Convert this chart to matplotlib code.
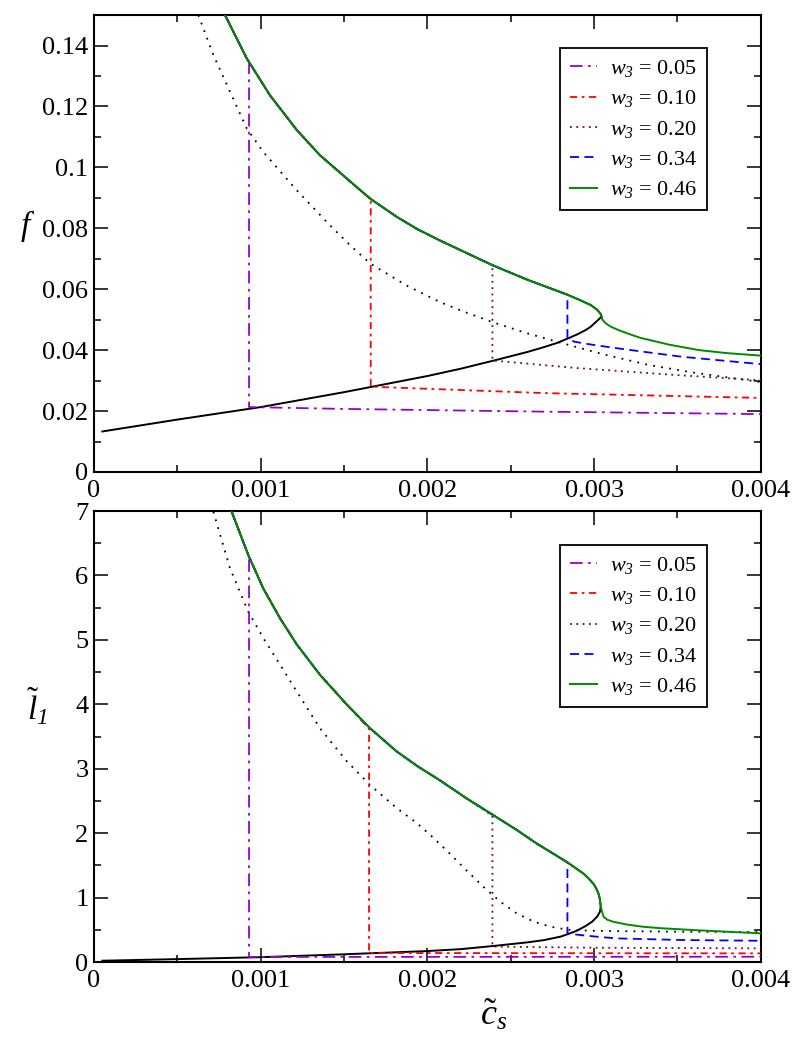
import matplotlib
matplotlib.use("Agg")
import matplotlib.pyplot as plt
from matplotlib.ticker import MultipleLocator, FuncFormatter

plt.rcParams['font.family'] = ['Liberation Serif', 'DejaVu Serif']
plt.rcParams['mathtext.fontset'] = 'custom'
plt.rcParams['mathtext.rm'] = 'Liberation Serif'
plt.rcParams['mathtext.it'] = 'Liberation Serif:italic'
# italic digits for the subscripts
plt.rcParams['mathtext.bf'] = 'Liberation Serif:italic'

### data
w3_labels = ["0.05", "0.10", "0.20", "0.34", "0.46"]
colors = ["#9400D3", "#FF0000", "#670748", "#0000FF", "#008B00"]
dashes = [(7, 3, 1.5, 3), (4, 2.5, 1.5, 2.5), (1, 2.5), (5, 3), None]

# top panel : f
c_up_f = [0.000786, 0.000916, 0.001055, 0.001216, 0.001355, 0.001515, 0.001655,
          0.001815, 0.00194, 0.002075, 0.00239, 0.0026, 0.00284, 0.00292, 0.00298,
          0.00302, 0.00304, 0.003045]
f_up = [0.150, 0.1358, 0.1237, 0.1123, 0.1040, 0.0964, 0.0898,
        0.0838, 0.0797, 0.0760, 0.0679, 0.0631, 0.0582, 0.0563, 0.0548,
        0.0532, 0.0518, 0.0510]
c_lo_f = [0.00005, 0.0005, 0.001, 0.0015, 0.002, 0.0022, 0.0024, 0.0026, 0.0027,
          0.00278, 0.00285, 0.0029, 0.00295, 0.00298, 0.00301, 0.00303, 0.003045]
f_lo = [0.0133, 0.0172, 0.0213, 0.0262, 0.0315, 0.0339, 0.0366, 0.0394, 0.0410,
        0.0424, 0.0440, 0.0452, 0.0466, 0.0477, 0.0492, 0.0502, 0.0510]
c_sp_f = [0.000626, 0.000716, 0.000816, 0.000916, 0.001015, 0.001216, 0.001415,
          0.001535, 0.001655, 0.001875, 0.002075, 0.0022, 0.00239, 0.0026,
          0.002835, 0.00305, 0.00333, 0.0036, 0.004]
f_sp = [0.150, 0.1369, 0.1248, 0.1128, 0.1051, 0.0925, 0.0810,
        0.0745, 0.0685, 0.0612, 0.0558, 0.0530, 0.0492, 0.0455,
        0.0419, 0.0387, 0.0351, 0.0326, 0.0295]
c_green_f = [0.003045, 0.00305, 0.00307, 0.0031, 0.00315, 0.00322, 0.00328,
             0.00345, 0.00363, 0.0038, 0.004]
f_green = [0.0510, 0.0500, 0.0488, 0.0477, 0.0465, 0.0451, 0.0440,
           0.0418, 0.0400, 0.0390, 0.0382]

jump_c_f = [0.00093, 0.00166, 0.00239, 0.00284]
jump_top_f = [0.1350, 0.0896, 0.0679, 0.0582]
tail_c_f = [[0.00093, 0.0015, 0.0027, 0.004],
            [0.00166, 0.0027, 0.004],
            [0.00239, 0.0029, 0.0035, 0.004],
            [0.00284, 0.00288, 0.00295, 0.00305, 0.00318, 0.00353, 0.004]]
tail_f = [[0.0213, 0.0207, 0.0198, 0.0190],
          [0.0280, 0.0259, 0.0243],
          [0.0366, 0.0341, 0.0318, 0.0301],
          [0.0440, 0.0428, 0.0421, 0.0413, 0.0403, 0.0378, 0.0354]]

# bottom panel : l1
c_up_l = [0.000826, 0.000925, 0.001015, 0.001115, 0.001216, 0.001355, 0.001515,
          0.001655, 0.001815, 0.00194, 0.002075, 0.002235, 0.002395, 0.00253,
          0.002655, 0.002835, 0.002935, 0.00297, 0.0030, 0.003015, 0.003026,
          0.003035, 0.00304]
l_up = [6.99, 6.32, 5.80, 5.34, 4.93, 4.46, 4.00,
        3.63, 3.27, 3.04, 2.82, 2.54, 2.28, 2.06,
        1.84, 1.555, 1.375, 1.29, 1.20, 1.13, 1.065,
        0.97, 0.86]
c_lo_l = [0.00005, 0.0005, 0.001, 0.0015, 0.002, 0.0022, 0.0024, 0.0026, 0.0027,
          0.0028, 0.00285, 0.0029, 0.00295, 0.00299, 0.00302, 0.003035, 0.00304]
l_lo = [0.02, 0.045, 0.075, 0.12, 0.17, 0.20, 0.25, 0.305, 0.34,
        0.395, 0.44, 0.49, 0.56, 0.63, 0.71, 0.78, 0.86]
c_sp_l = [0.000716, 0.000816, 0.000925, 0.001015, 0.001115, 0.001216, 0.001355,
          0.001515, 0.001655, 0.001815, 0.001935, 0.002035, 0.002135, 0.002235,
          0.002335, 0.002435, 0.002535, 0.002635, 0.002735, 0.002845, 0.0030,
          0.003135, 0.003535, 0.004]
l_sp = [6.99, 6.11, 5.44, 5.03, 4.62, 4.20, 3.63,
        3.12, 2.75, 2.39, 2.16, 1.93, 1.68, 1.42,
        1.17, 0.94, 0.755, 0.63, 0.55, 0.50, 0.485,
        0.48, 0.47, 0.465]
c_green_l = [0.00304, 0.00305, 0.003058, 0.00308, 0.003115, 0.0032, 0.003295,
             0.0034, 0.003595, 0.0038, 0.004]
l_green = [0.86, 0.76, 0.70, 0.655, 0.625, 0.58, 0.547,
           0.525, 0.496, 0.47, 0.445]

jump_c_l = [0.00093, 0.00165, 0.00239, 0.00284]
jump_top_l = [6.33, 3.62, 2.27, 1.55]
tail_c_l = [[0.00093, 0.002, 0.004],
            [0.00165, 0.0028, 0.004],
            [0.00239, 0.0030, 0.004],
            [0.00284, 0.00288, 0.00295, 0.00305, 0.003135, 0.003535, 0.004]]
tail_l = [[0.078, 0.080, 0.082],
          [0.140, 0.137, 0.134],
          [0.240, 0.222, 0.212],
          [0.445, 0.430, 0.410, 0.385, 0.367, 0.341, 0.330]]


def fmt(v, pos):
    return "%g" % round(v, 6)


def draw_panel(ax, c_up, y_up, c_lo, y_lo, c_sp, y_sp, c_gr, y_gr,
               jc, jtop, tc, ty):
    # black S-shaped curve : lower branch then back along the upper branch
    ax.plot(list(c_lo) + list(c_up[::-1]), list(y_lo) + list(y_up[::-1]),
            color='black', lw=1.4, zorder=2)
    ax.plot(c_sp, y_sp, color='black', lw=1.3, dashes=(1, 3.5), zorder=2)
    handles = []
    for i in range(4):
        xs = [c for c in c_up if c < jc[i]] + [jc[i]] + list(tc[i])
        ys = [y for c, y in zip(c_up, y_up) if c < jc[i]] + [jtop[i]] + list(ty[i])
        h, = ax.plot(xs, ys, color=colors[i], lw=1.3, dashes=dashes[i], zorder=3)
        handles.append(h)
    h, = ax.plot(list(c_up) + list(c_gr[1:]), list(y_up) + list(y_gr[1:]),
                 color=colors[4], lw=1.4, zorder=4)
    handles.append(h)
    ax.set_xlim(0, 0.004)
    ax.xaxis.set_major_locator(MultipleLocator(0.001))
    ax.xaxis.set_minor_locator(MultipleLocator(0.0005))
    ax.xaxis.set_major_formatter(FuncFormatter(fmt))
    ax.yaxis.set_major_formatter(FuncFormatter(fmt))
    ax.tick_params(which='both', direction='in', top=True, right=True,
                   labelsize=19, width=1.1, labelfontfamily='Liberation Serif')
    ax.tick_params(which='major', length=10)
    ax.tick_params(which='minor', length=5)
    ax.tick_params(axis='x', pad=6)
    ax.tick_params(axis='y', pad=4)
    for sp in ax.spines.values():
        sp.set_linewidth(1.5)
    return handles


fig = plt.figure(figsize=(8, 10.38), dpi=100)
ax1 = fig.add_axes([0.1175, 0.5453, 0.8335, 0.4402])
ax2 = fig.add_axes([0.1175, 0.0732, 0.8335, 0.4345])

h1 = draw_panel(ax1, c_up_f, f_up, c_lo_f, f_lo, c_sp_f, f_sp, c_green_f, f_green,
                jump_c_f, jump_top_f, tail_c_f, tail_f)
ax1.set_ylim(0, 0.15)
ax1.yaxis.set_major_locator(MultipleLocator(0.02))
ax1.yaxis.set_minor_locator(MultipleLocator(0.01))
ax1.set_ylabel('$f$', rotation=0, fontsize=24)
ax1.yaxis.set_label_coords(-0.1, 0.5)

h2 = draw_panel(ax2, c_up_l, l_up, c_lo_l, l_lo, c_sp_l, l_sp, c_green_l, l_green,
                jump_c_l, jump_top_l, tail_c_l, tail_l)
ax2.set_ylim(0, 7)
ax2.yaxis.set_major_locator(MultipleLocator(1))
ax2.yaxis.set_minor_locator(MultipleLocator(0.5))
ax2.set_ylabel(r'$\tilde{l}_{\mathbf{1}}$', rotation=0, fontsize=24)
ax2.yaxis.set_label_coords(-0.085, 0.52)
ax2.set_xlabel(r'$\tilde{c}_s$', fontsize=26)
ax2.xaxis.set_label_coords(0.60, -0.078)

labels = [r'$w_{\mathbf{3}}$ = ' + s for s in w3_labels]
for ax, hs, top in [(ax1, h1, 0.928), (ax2, h2, 0.925)]:
    leg = ax.legend(hs, labels, loc='upper left', bbox_to_anchor=(0.699, top),
                    fontsize=16, frameon=True, fancybox=False, framealpha=1,
                    edgecolor='black', handlelength=1.2, labelspacing=0.42,
                    borderpad=0.45, handletextpad=0.6, borderaxespad=0)
    leg.get_frame().set_linewidth(1.3)

fig.savefig('out.png', dpi=100)
